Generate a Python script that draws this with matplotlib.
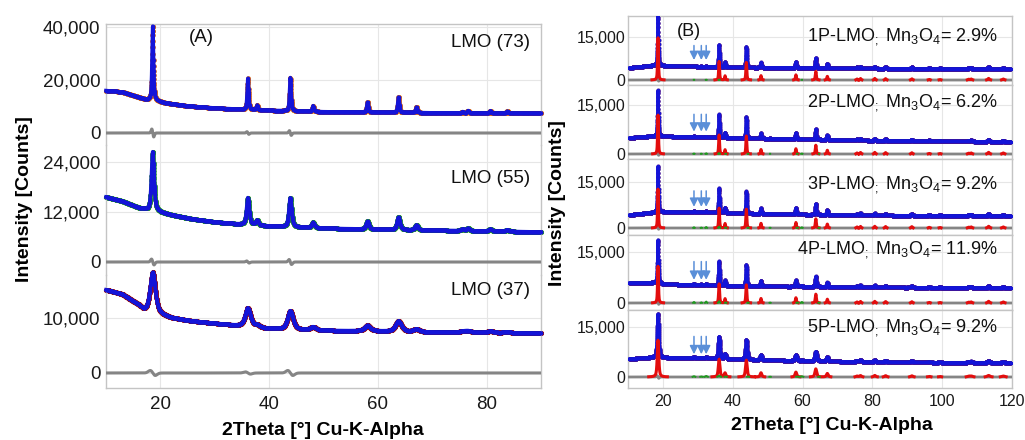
import numpy as np
import matplotlib
matplotlib.use("Agg")
import matplotlib.pyplot as plt

plt.rcParams["font.family"] = ["Liberation Sans", "DejaVu Sans"]
plt.rcParams["mathtext.default"] = "regular"

W, H = 1025, 440

# ---------------- Panel (A): LMO samples ----------------
A_labels = ["LMO (73)", "LMO (55)", "LMO (37)"]
A_pos = [18.6, 36.1, 37.8, 43.9, 48.1, 58.1, 63.8, 67.1, 75.6, 76.6, 80.7, 83.8]
A_heights = [
    [28000, 11800, 1800, 12600, 2200, 3800, 5800, 2100, 500, 900, 900, 700],
    [14200, 6500, 1200, 7000, 1300, 1900, 3000, 1200, 400, 600, 500, 400],
    [7300, 3400, 400, 3400, 600, 1000, 1900, 500, 200, 300, 300, 200],
]
A_fwhm = [0.3, 0.55, 1.1]
A_bg_x = [
    [10, 13, 16, 17.5, 19, 21, 25, 30, 35, 40, 50, 60, 70, 80, 90],
    [10, 13, 16, 17.5, 19, 22, 26, 30, 35, 40, 50, 60, 70, 80, 90],
    [10, 13, 16, 17, 19, 22, 26, 30, 34, 40, 50, 60, 70, 80, 90],
]
A_bg_y = [
    [16000, 15500, 13500, 12500, 12200, 11300, 10200, 9400, 8900, 8500, 8000, 7800, 7600, 7500, 7400],
    [15600, 14600, 13000, 12400, 12200, 11300, 10300, 9600, 9000, 8600, 8100, 7800, 7600, 7400, 7200],
    [15100, 14300, 12300, 11300, 10900, 10000, 9400, 9000, 8600, 8000, 7700, 7600, 7400, 7300, 7200],
]
A_diff_pos = [18.6, 36.1, 43.9]
A_diff_amp = [[1500, 500, 900], [700, 250, 600], [450, 200, 450]]
A_yticks = [[0, 20000, 40000], [0, 12000, 24000], [0, 10000]]
A_ylims = [(-4530, 41130), (-3120, 28080), (-2730, 17800)]
A_obs_color = ["#e0701c", "#2a9a2a", "#a01010"]
A_xticks = [20, 40, 60, 80]

# ---------------- Panel (B): 1P..5P-LMO with Mn3O4 ----------------
B_names = ["1P-LMO", "2P-LMO", "3P-LMO", "4P-LMO", "5P-LMO"]
B_mn3o4 = [2.9, 6.2, 9.2, 11.9, 9.2]
B_pos = [18.6, 36.1, 37.8, 43.9, 48.1, 58.1, 63.8, 67.1, 75.6, 76.6, 80.7,
         83.8, 91.3, 96.3, 99.4, 107.6, 108.3, 113.3, 117.5]
B_heights = [17300, 7600, 1700, 7200, 1800, 2100, 3500, 1500, 400, 600, 650,
             550, 500, 250, 200, 300, 400, 650, 400]
B_main_peak = [17300, 14000, 14900, 12700, 13000]
B_scale = [1.0, 0.9, 1.0, 0.87, 0.82]
B_fwhm = [0.28, 0.28, 0.28, 0.3, 0.5]
B_red_frac = 0.85
B_bg_x = [10, 15, 17.5, 20, 25, 30, 40, 60, 80, 100, 120]
B_bg_y = [
    [4200, 4800, 5100, 5000, 4800, 4700, 4400, 4200, 4000, 3900, 3800],
    [4900, 5300, 5500, 5400, 5300, 5200, 4900, 4500, 4100, 3900, 3700],
    [4200, 4800, 5100, 5300, 5200, 5200, 4800, 4400, 4100, 4000, 3900],
    [5900, 5900, 6000, 5600, 5400, 5300, 5000, 4800, 4600, 4500, 4400],
    [5400, 5700, 5900, 5800, 5700, 5700, 5300, 4800, 4500, 4300, 4200],
]
# Mn3O4 (hausmannite) reflections, intensity per 10 % phase fraction
M_pos = [28.9, 31.0, 32.4, 36.1, 38.0, 44.4, 50.7, 58.5, 59.8, 64.7]
M_heights = [250, 150, 350, 450, 150, 150, 100, 150, 250, 100]
B_arrow_x = [28.9, 31.0, 32.4]
B_ylims = [(-1740, 22330), (-1530, 21120), (-2280, 22490), (-2060, 20000), (-3300, 20100)]
B_yticks = [0, 15000]
B_xticks = [20, 40, 60, 80, 100, 120]
B_text_y = [0.70, 0.757, 0.658, 0.80, 0.77]


def pseudo_voigt(x, pos, heights, fwhm, eta=0.6):
    y = np.zeros_like(x)
    for p, h in zip(pos, heights):
        w = fwhm / np.cos(np.radians(p / 2.0))
        d = (x - p) / (w / 2.0)
        y += h * (eta / (1.0 + d ** 2) + (1 - eta) * np.exp(-np.log(2) * d ** 2))
    return y


def difference(x, pos, amps, fwhm):
    y = np.zeros_like(x)
    for p, a in zip(pos, amps):
        u = (x - p) / max(fwhm * 0.6, 0.25)
        y += -a * u * np.exp(-u ** 2) / 0.4289
    return y


GRID = "#e6e6e6"
SPINE = "#c4c4c4"
BLUE = "#1414d8"
RED = "#e30d0d"
GRAY = "#858585"


def rect(left, top, right, bottom):
    return [left / W, 1 - bottom / H, (right - left) / W, (bottom - top) / H]


def style_axis(ax, xlim, xticks, yticks, ylim, fs, show_x):
    ax.set_xlim(*xlim)
    ax.set_ylim(*ylim)
    ax.set_xticks(xticks)
    ax.set_yticks(yticks)
    ax.set_yticklabels([f"{v:,}" for v in yticks])
    ax.grid(True, color=GRID, lw=0.8)
    ax.set_axisbelow(True)
    ax.tick_params(length=0, labelsize=fs, colors="#1a1a1a", pad=4)
    if not show_x:
        ax.tick_params(labelbottom=False)
    for s in ax.spines.values():
        s.set_color(SPINE)
        s.set_linewidth(1.0)


fig = plt.figure(figsize=(W / 100, H / 100), dpi=100)

# Panel A: three stacked strips sharing one frame
A_edges = [24, 145, 275, 388]
xA = np.arange(10, 90.001, 0.02)
for i in range(3):
    ax = fig.add_axes(rect(106, A_edges[i], 541, A_edges[i + 1]))
    ax.patch.set_alpha(0)
    bg = np.interp(xA, A_bg_x[i], A_bg_y[i])
    peaks = pseudo_voigt(xA, A_pos, A_heights[i], A_fwhm[i])
    calc = bg + peaks
    diff = difference(xA, A_diff_pos, A_diff_amp[i], A_fwhm[i])
    ax.plot(xA, calc, "o", ms=3.4, color=A_obs_color[i], mec="none", zorder=2,
            clip_on=False)
    ax.plot(xA, calc, "-", lw=2.6, color=BLUE, marker="o", ms=2.4, mec="none",
            zorder=3, clip_on=False)
    ax.plot(xA, diff, "-", lw=2.2, color=GRAY, zorder=3)
    style_axis(ax, (10, 90), A_xticks, A_yticks[i], A_ylims[i], 13.5, i == 2)
    ax.tick_params(axis="x", pad=6)
    if i > 0:
        ax.spines["top"].set_visible(False)
    if i < 2:
        ax.spines["bottom"].set_visible(False)
    ax.text(0.975, [0.843, 0.746, 0.867][i], A_labels[i], transform=ax.transAxes,
            ha="right", va="center", fontsize=13.5, color="#111111")
    if i == 0:
        ax.text(0.22, 0.89, "(A)", transform=ax.transAxes, ha="center",
                va="center", fontsize=13.5, color="#111111")

# Panel B: five framed strips
B_edges = [16, 85, 159, 235, 310, 388]
xB = np.arange(10, 120.001, 0.02)
for i in range(5):
    ax = fig.add_axes(rect(628, B_edges[i], 1012, B_edges[i + 1]))
    h = [v * B_scale[i] for v in B_heights]
    h[0] = B_main_peak[i]
    bg = np.interp(xB, B_bg_x, B_bg_y[i])
    lmo = pseudo_voigt(xB, B_pos, h, B_fwhm[i])
    mn = pseudo_voigt(xB, M_pos, [v * B_mn3o4[i] / 10 for v in M_heights], B_fwhm[i])
    calc = bg + lmo + mn
    diff = difference(xB, [18.6], [400], B_fwhm[i])
    red = lmo * B_red_frac
    ax.plot(xB, calc, "o", ms=3.0, color="#4a1c9c", mec="none", zorder=2)
    ax.plot(xB, calc, "-", lw=2.2, color=BLUE, marker="o", ms=2.2, mec="none", zorder=3)
    ax.plot(xB, diff, "-", lw=2.0, color=GRAY, zorder=3)
    ax.plot(xB, np.where(red > 60, red, np.nan), "-", lw=2.2, color=RED, zorder=4)
    ax.plot(xB, np.where(mn > 60, mn, np.nan), "-", lw=1.4, color="#1f9a1f", zorder=5)
    for xa in B_arrow_x:
        ax.annotate("", xy=(xa, 6000), xytext=(xa, 13000),
                    arrowprops=dict(arrowstyle="-|>,head_length=0.5,head_width=0.25",
                                    color="#5a8fd8", lw=1.1), zorder=6)
    style_axis(ax, (10, 120), B_xticks, B_yticks, B_ylims[i], 11.5, i == 4)
    ax.tick_params(axis="y", pad=2)
    ax.tick_params(axis="x", pad=4)
    ax.text(0.964, B_text_y[i],
            f"{B_names[i]}$_;$ Mn$_3$O$_4$= {B_mn3o4[i]}%",
            transform=ax.transAxes, ha="right", va="center", fontsize=13,
            color="#111111")
    if i == 0:
        ax.text(0.159, 0.77, "(B)", transform=ax.transAxes, ha="center",
                va="center", fontsize=13, color="#111111")

# Axis titles
fig.text(25 / W, 1 - 199 / H, "Intensity [Counts]", rotation=90, ha="center",
         va="center", fontsize=14, fontweight="bold")
fig.text(558 / W, 1 - 203 / H, "Intensity [Counts]", rotation=90, ha="center",
         va="center", fontsize=14, fontweight="bold")
fig.text(323 / W, 1 - 430 / H, "2Theta [°] Cu-K-Alpha", ha="center",
         va="center", fontsize=14, fontweight="bold")
fig.text(832 / W, 1 - 425 / H, "2Theta [°] Cu-K-Alpha", ha="center",
         va="center", fontsize=14, fontweight="bold")

fig.savefig("out.png", dpi=100)
